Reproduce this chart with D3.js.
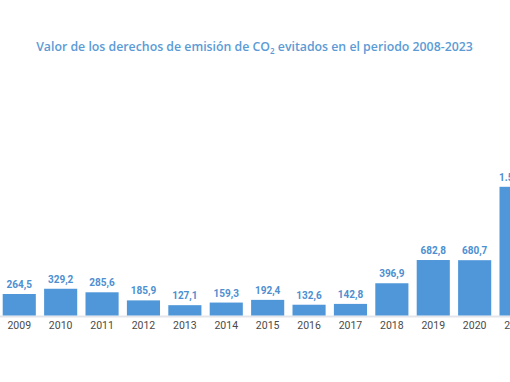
<!DOCTYPE html>
<html>
<head>
<meta charset="utf-8">
<script src="https://cdn.jsdelivr.net/npm/d3@7"></script>
<style>
  html, body { margin: 0; padding: 0; background: #ffffff; }
  svg { display: block; }
</style>
</head>
<body>
<svg id="chart" width="510" height="382"></svg>
<script>
const years = ["2009","2010","2011","2012","2013","2014","2015","2016","2017","2018","2019","2020","2021"];
const values = [264.5, 329.2, 285.6, 185.9, 127.1, 159.3, 192.4, 132.6, 142.8, 396.9, 682.8, 680.7, 1584.0];
const valueLabels = ["264,5","329,2","285,6","185,9","127,1","159,3","192,4","132,6","142,8","396,9","682,8","680,7","1.584,0"];
const titleParts = ["Valor de los derechos de emisión de CO", "2", " evitados en el periodo 2008-2023"];

const svg = d3.select("#chart");
const W = 510, H = 382;
const step = 41.4;

const x = d3.scaleBand()
  .domain(years)
  .range([2.7 - 0.1 * step, 2.7 - 0.1 * step + years.length * step])
  .paddingInner(0.2)
  .paddingOuter(0.1);

const y = d3.scaleLinear().domain([0, 2000]).range([315.5, 153]);

// baseline
svg.append("line")
  .attr("x1", 0).attr("x2", W)
  .attr("y1", y(0) + 1).attr("y2", y(0) + 1)
  .attr("stroke", "#e4e5ea").attr("stroke-width", 2);

// bars
svg.append("g").selectAll("rect")
  .data(years)
  .join("rect")
  .attr("x", d => x(d))
  .attr("width", x.bandwidth())
  .attr("y", (d, i) => y(values[i]))
  .attr("height", (d, i) => y(0) - y(values[i]))
  .attr("fill", "#5097d9");

// value labels
svg.append("g").selectAll("text")
  .data(years)
  .join("text")
  .attr("x", d => x(d) + x.bandwidth() / 2)
  .attr("y", (d, i) => y(values[i]) - 6)
  .attr("text-anchor", "middle")
  .attr("font-family", "Roboto, sans-serif")
  .attr("font-weight", "bold")
  .attr("font-size", "10px")
  .attr("fill", "#4d8fd1")
  .text((d, i) => valueLabels[i]);

// x axis labels
const xAxis = d3.axisBottom(x).tickSize(0).tickPadding(0);
const gx = svg.append("g")
  .attr("transform", `translate(0, ${y(0)})`)
  .call(xAxis);
gx.select(".domain").remove();
gx.selectAll("text")
  .attr("y", 13.5)
  .attr("dy", 0)
  .attr("font-family", "Roboto, sans-serif")
  .attr("font-size", "10.5px")
  .attr("fill", "#4a4a4a");

// title
const title = svg.append("text")
  .attr("x", 254.5)
  .attr("y", 51)
  .attr("text-anchor", "middle")
  .attr("font-family", "'Open Sans', Lato, sans-serif")
  .attr("font-weight", 600)
  .attr("font-size", "13px")
  .attr("fill", "#5b9bd5");
title.append("tspan").text(titleParts[0]);
title.append("tspan").attr("font-size", "8px").attr("dy", 3).text(titleParts[1]);
title.append("tspan").attr("dy", -3).text(titleParts[2]);
const tw = title.node().getComputedTextLength();
const target = 437;
title.attr("font-size", (13 * target / tw) + "px");
</script>
</body>
</html>
